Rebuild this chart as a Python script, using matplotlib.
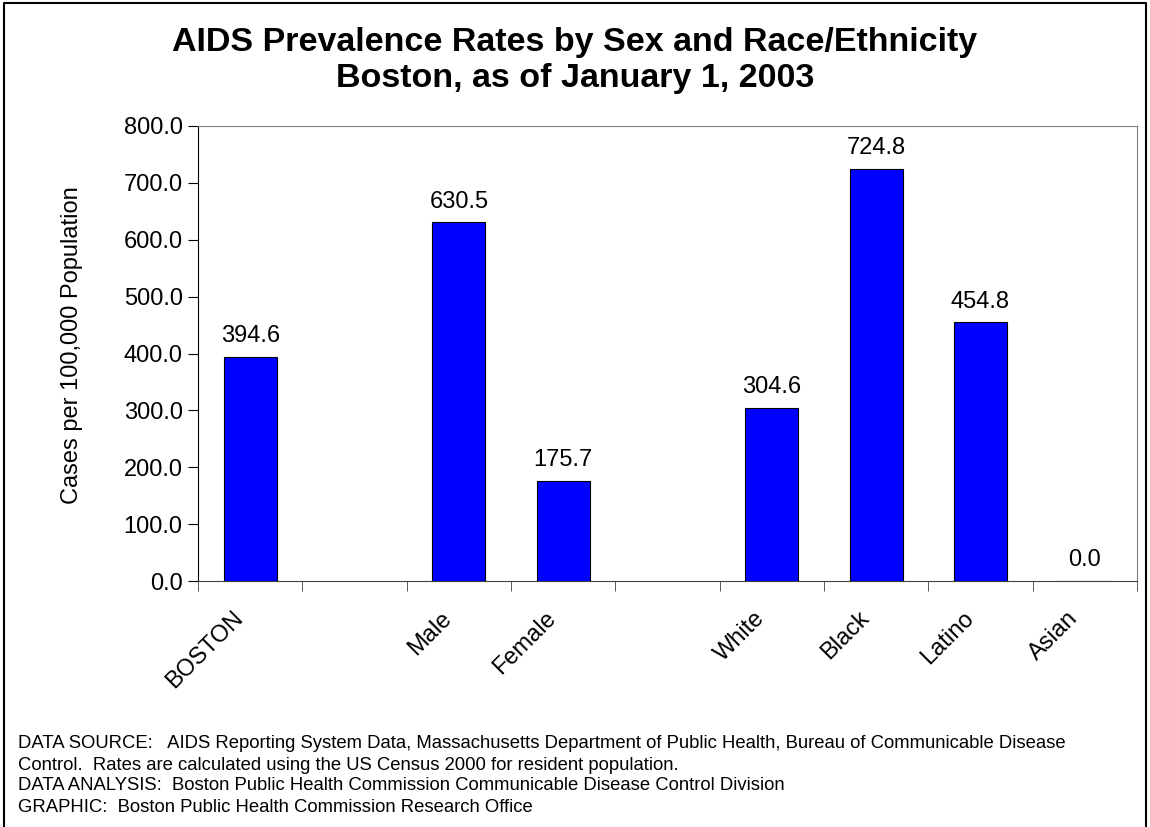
import matplotlib
matplotlib.use("Agg")
import matplotlib.pyplot as plt
from matplotlib.transforms import ScaledTranslation

plt.rcParams['font.family'] = ['Liberation Sans', 'DejaVu Sans']

# data (blank slots are gaps between groups)
categories = ["BOSTON", "", "Male", "Female", "", "White", "Black", "Latino", "Asian"]
rates = [394.6, None, 630.5, 175.7, None, 304.6, 724.8, 454.8, 0.0]
yticks = [0, 100, 200, 300, 400, 500, 600, 700, 800]

footer = [
    "DATA SOURCE:   AIDS Reporting System Data, Massachusetts Department of Public Health, Bureau of Communicable Disease",
    "Control.  Rates are calculated using the US Census 2000 for resident population.",
    "DATA ANALYSIS:  Boston Public Health Commission Communicable Disease Control Division",
    "GRAPHIC:  Boston Public Health Commission Research Office",
]

W, H = 1150, 827
fig = plt.figure(figsize=(W / 100, H / 100), dpi=100)
ax = fig.add_axes([198 / W, 1 - 581 / H, (1137 - 198) / W, (581 - 126) / H])

# outer frame, open at the bottom like the original
fig.add_artist(plt.Line2D([4 / W, 4 / W, 1146 / W, 1146 / W],
                          [0, 1 - 3 / H, 1 - 3 / H, 0],
                          transform=fig.transFigure, color="black", lw=1.5))

xs = [i for i, v in enumerate(rates) if v is not None]
vals = [v for v in rates if v is not None]
ax.bar(xs, vals, width=0.51, color="#0000FF", edgecolor="black", linewidth=0.8, zorder=3)
for x, v in zip(xs, vals):
    ax.text(x, v + 17, f"{v:.1f}", ha="center", va="bottom", fontsize=17)

ax.set_xlim(-0.5, len(categories) - 0.5)
ax.set_ylim(0, 800)
ax.set_yticks(yticks)
ax.set_yticklabels([f"{t:.1f}" for t in yticks], fontsize=17)
ax.set_ylabel("Cases per 100,000 Population", fontsize=17)
ax.yaxis.set_label_coords(-0.1225, 0.518)

# category labels at centres, tick marks at boundaries
ax.set_xticks(range(len(categories)))
ax.set_xticklabels(categories, rotation=45, ha="right", va="top",
                   rotation_mode="anchor", fontsize=17)
ax.tick_params(axis="x", length=0, pad=19)
shift = ScaledTranslation(-0.18, 0, fig.dpi_scale_trans)
for lbl in ax.get_xticklabels():
    lbl.set_transform(lbl.get_transform() + shift)
ax.set_xticks([i - 0.5 for i in range(len(categories) + 1)], minor=True)
ax.tick_params(axis="x", which="minor", length=7, direction="out", color="#404040")
ax.tick_params(axis="y", length=7, direction="out", pad=4)

for s in ["top", "right"]:
    ax.spines[s].set_color("#808080")
ax.spines["bottom"].set_color("#404040")
ax.spines["left"].set_color("black")

fig.text(0.5, 1 - 42 / H, "AIDS Prevalence Rates by Sex and Race/Ethnicity",
         ha="center", va="center", fontsize=24.5, fontweight="bold")
fig.text(0.5, 1 - 78 / H, "Boston, as of January 1, 2003",
         ha="center", va="center", fontsize=24.5, fontweight="bold")

for i, line in enumerate(footer):
    fig.text(18 / W, 1 - (744 + 21 * i) / H, line, ha="left", va="center", fontsize=13.3)

fig.savefig("out.png", dpi=100)
